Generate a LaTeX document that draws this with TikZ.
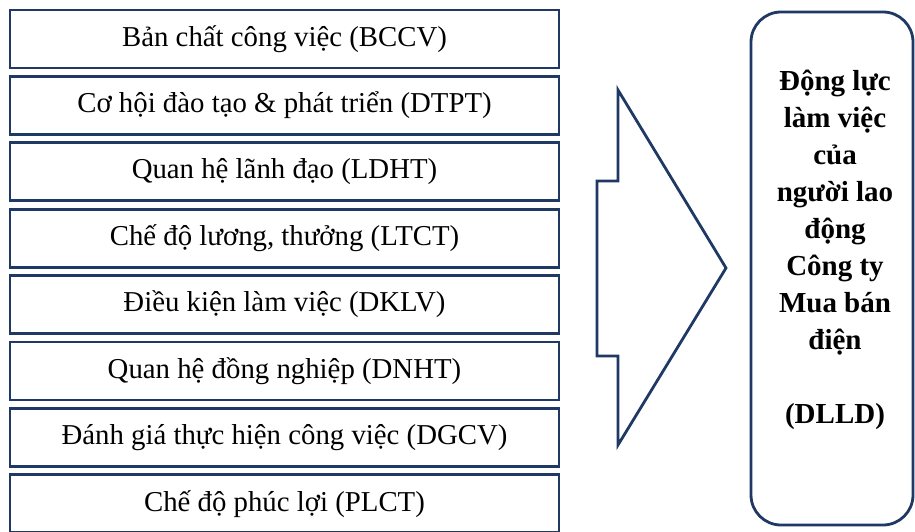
\documentclass[tikz,border=0pt]{standalone}
\usepackage{fontspec}
\setmainfont{Liberation Serif}
\usepackage{tikz}
\usetikzlibrary{shapes,calc}
\definecolor{navy}{HTML}{1F3864}

\begin{document}
\begin{tikzpicture}[x=1pt,y=-1pt]
\useasboundingbox (0,0) rectangle (915,532);
  % les facteurs
\foreach \t [count=\i] in {Bản chất công việc (BCCV),
  Cơ hội đào tạo \& phát triển (DTPT),
  Quan hệ lãnh đạo (LDHT),
  {Chế độ lương, thưởng (LTCT)},
  Điều kiện làm việc (DKLV),
  Quan hệ đồng nghiệp (DNHT),
  Đánh giá thực hiện công việc (DGCV),
  Chế độ phúc lợi (PLCT)}
{
  \node[rectangle,draw=navy,line width=2.8pt,minimum width=549pt,minimum height=58pt,inner sep=0pt,font=\fontsize{28.8}{30}\selectfont] (box\i) at (284.5,{39+(\i-1)*66.4}) {\t};
}

  % la flèche
  \coordinate (A) at (597,181);
  \draw[navy,line width=2.8pt] (A) -- ++(21,0) -- ++(0,-91) -- (726,268)
        -- (618,445) -- ++(0,-89) -- ++(-21,0) -- cycle;

  % le résultat
  \node[rectangle,rounded corners=30pt,draw=navy,line width=2.8pt,minimum width=162pt,minimum height=513pt,inner sep=0pt] (dlld) at (832,268.5) {};
  \node[align=center,font=\fontsize{29}{37}\selectfont\bfseries] (dlldtext) at (835,249.5)
    {Động lực\\làm việc\\của\\người lao\\động\\Công ty\\Mua bán\\điện\\ \\(DLLD)};

\end{tikzpicture}
\end{document}
